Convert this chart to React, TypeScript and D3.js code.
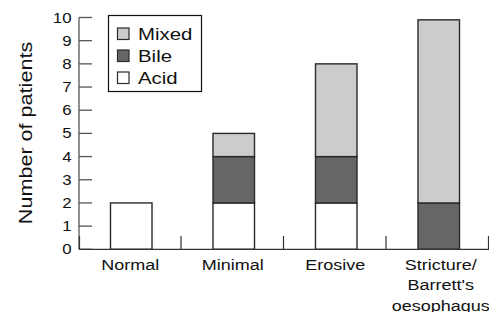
import React from "react";
import * as d3 from "d3";

const categories = ["Normal", "Minimal", "Erosive", "Stricture/Barrett's oesophagus"];
const categoryLines = [["Normal"], ["Minimal"], ["Erosive"], ["Stricture/", "Barrett's", "oesophagus"]];
const acid = [2, 2, 2, 0];
const bile = [0, 2, 2, 2];
const mixed = [0, 1, 4, 7.9];
const yTicks = [0, 1, 2, 3, 4, 5, 6, 7, 8, 9, 10];
const seriesNames = ["Acid", "Bile", "Mixed"];
const seriesColors = ["#ffffff", "#666666", "#cccccc"];
const legendOrder = ["Mixed", "Bile", "Acid"];

const W = 489;
const H = 312;
const FONT = "'Liberation Sans', Arial, Helvetica, sans-serif";
const SX = 1.2;

export default function App() {
  const x = d3.scaleBand<string>().domain(categories).range([79, 489]).paddingInner(0).paddingOuter(0);
  const y = d3.scaleLinear().domain([0, 10]).range([249.3, 17.5]);
  const barW = x.bandwidth() * 0.405;

  const rows = categories.map((c, i) => ({ cat: c, Acid: acid[i], Bile: bile[i], Mixed: mixed[i] }));
  const stacked = d3.stack<any>().keys(seriesNames)(rows);

  const ink = "#2a2a2a";

  return (
    <svg width={W} height={H} style={{ position: "absolute", left: 0, top: 0, background: "#fff" }} fontFamily={FONT}>
      {/* bars */}
      {stacked.map((layer, si) =>
        layer.map((d, ci) => {
          const v = d[1] - d[0];
          if (v <= 0) return null;
          const cx = (x(categories[ci]) as number) + x.bandwidth() / 2 + 1;
          return (
            <rect
              key={`${si}-${ci}`}
              x={cx - barW / 2}
              y={y(d[1])}
              width={barW}
              height={y(d[0]) - y(d[1])}
              fill={seriesColors[si]}
              stroke={ink}
              strokeWidth={1.4}
            />
          );
        })
      )}

      {/* y axis */}
      <line x1={79} x2={79} y1={y(10)} y2={y(0)} stroke="#555" strokeWidth={1.3} />
      {yTicks.map((t) => (
        <g key={t}>
          <line x1={79} x2={92} y1={y(t)} y2={y(t)} stroke="#555" strokeWidth={1.3} />
          <text
            transform={`translate(71.5, ${y(t) + 5}) scale(${SX},1)`}
            textAnchor="end"
            fontSize={14}
            fill="#111"
          >
            {t}
          </text>
        </g>
      ))}
      <text
        transform={`translate(31.5, 133) rotate(-90) scale(${SX},1)`}
        textAnchor="middle"
        fontSize={18}
        fill="#111"
      >
        Number of patients
      </text>

      {/* x axis */}
      <line x1={79} x2={489} y1={249.3} y2={249.3} stroke="#333" strokeWidth={1.3} />
      {categories.map((c, i) => {
        const bx = (x(c) as number) + x.bandwidth();
        return <line key={`sep${i}`} x1={bx - 0.5} x2={bx - 0.5} y1={236} y2={249} stroke="#333" strokeWidth={1.2} />;
      })}
      <line x1={79.5} x2={79.5} y1={236} y2={249} stroke="#333" strokeWidth={1.2} />
      {categories.map((c, i) => {
        const cx = (x(c) as number) + x.bandwidth() / 2 + (i === 3 ? 3 : 0);
        return categoryLines[i].map((ln, li) => (
          <text
            key={`${i}-${li}`}
            transform={`translate(${cx}, ${269.5 + li * 20.5}) scale(${SX},1)`}
            textAnchor="middle"
            fontSize={15}
            fill="#111"
          >
            {ln}
          </text>
        ));
      })}

      {/* legend */}
      <rect x={108.5} y={15.5} width={93} height={76} fill="#fff" stroke="#111" strokeWidth={1.2} />
      {legendOrder.map((name, i) => {
        const si = seriesNames.indexOf(name);
        const cy = 33.5 + i * 22;
        return (
          <g key={name}>
            <rect x={117.5} y={cy - 5.5} width={11.5} height={11.5} fill={seriesColors[si]} stroke={ink} strokeWidth={1.2} />
            <text transform={`translate(138, ${cy + 6}) scale(${SX},1)`} fontSize={17} fill="#111">
              {name}
            </text>
          </g>
        );
      })}
    </svg>
  );
}
